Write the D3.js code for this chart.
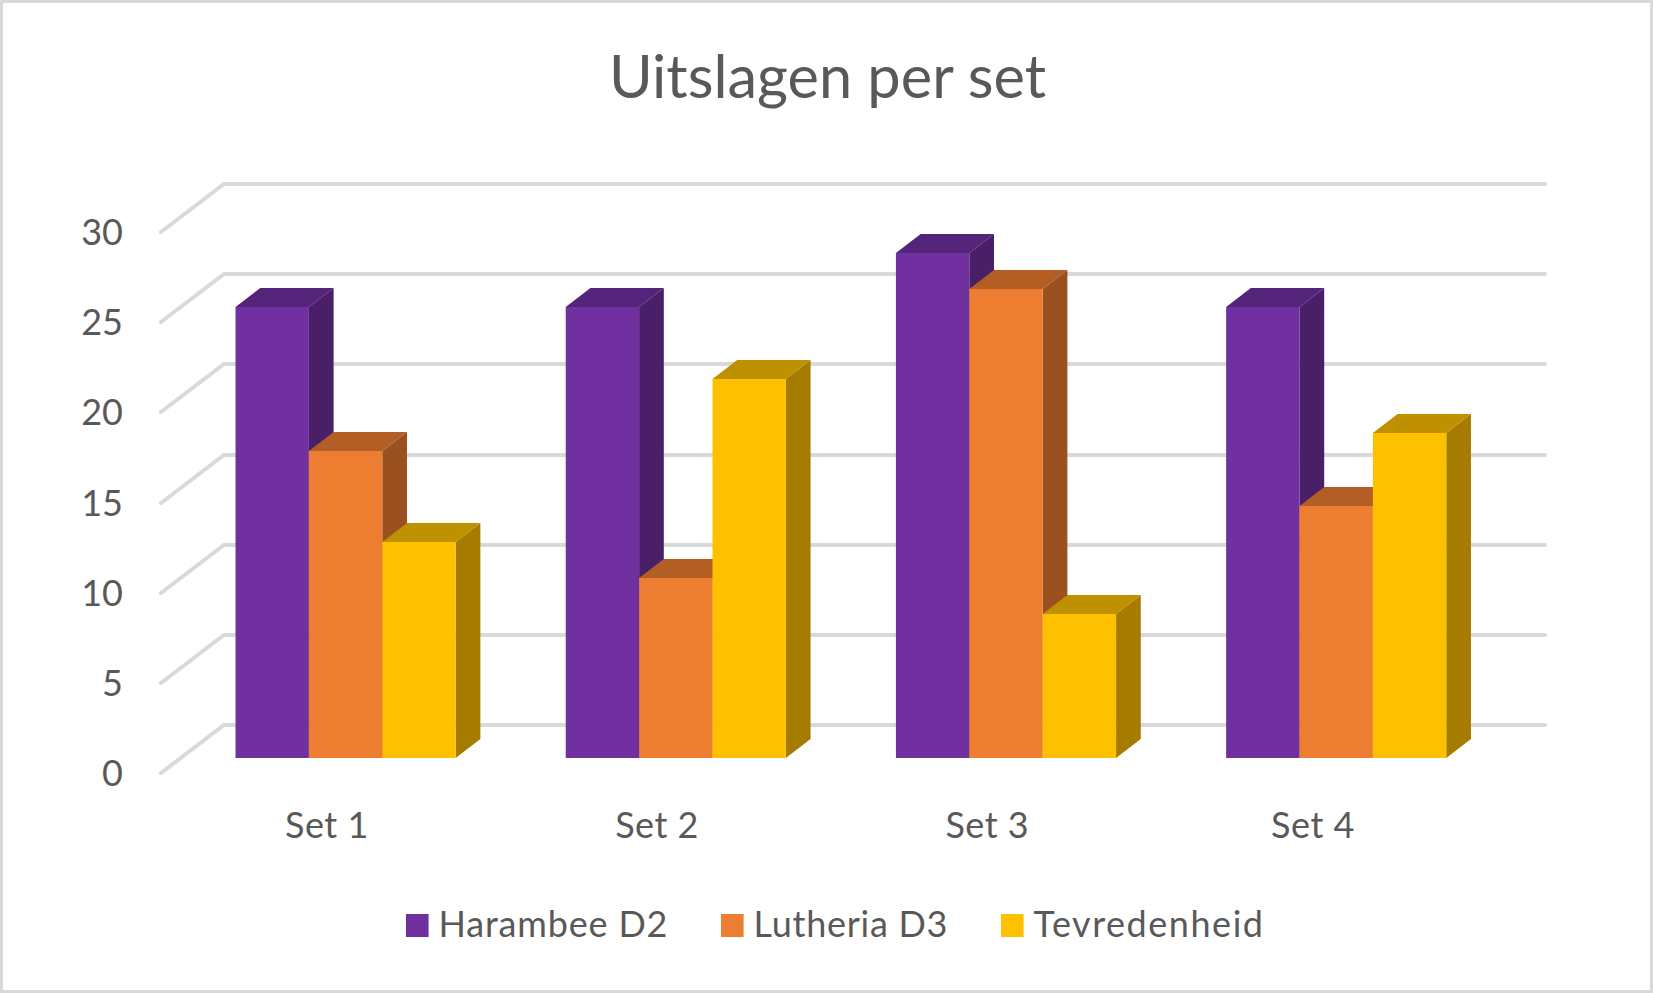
<!DOCTYPE html>
<html><head><meta charset="utf-8">
<style>html,body{margin:0;padding:0;background:#fff}svg{display:block}text{font-family:Lato,"Open Sans",sans-serif;fill:#595959}</style>
<script src="https://cdnjs.cloudflare.com/ajax/libs/d3/7.8.5/d3.min.js"></script>
</head><body><svg id="c" width="1653" height="993"></svg>
<script>
const title = "Uitslagen per set";
const categories = ["Set 1","Set 2","Set 3","Set 4"];
const seriesNames = ["Harambee D2","Lutheria D3","Tevredenheid"];
const harambee = [25,25,28,25];
const lutheria = [17,10,26,14];
const tevredenheid = [12,21,8,18];
const seriesValues = [harambee,lutheria,tevredenheid];
const colors = ["#7030A0","#ED7D31","#FFC000"];
const topColors = ["#54247A","#B25E25","#BF9000"];
const sideColors = ["#491F68","#9A511F","#A67C00"];
const yTicks = [0,5,10,15,20,25,30];

const W=1653,H=993;
const svg=d3.select("#c");
svg.append("rect").attr("x",1.5).attr("y",1.5).attr("width",W-3).attr("height",H-3).attr("fill","#fff").attr("stroke","#D9D9D9").attr("stroke-width",3);

svg.append("text").attr("x",827.5).attr("y",98).attr("text-anchor","middle").attr("font-size",59.5).text(title);

const frontY=758, unit=90.15/5;
const y=d3.scaleLinear().domain([0,30]).rangeRound([frontY,frontY-30*unit]);
const x0=d3.scaleBand().domain(categories).range([180.5,1501.3]).paddingInner(1/3).paddingOuter(1/6);
const x1=d3.scaleBand().domain(seriesNames).range([0,x0.bandwidth()]);
const dx=24.7,dy=19;
// wall geometry relative to the bar plane
const wallFront={x:161,dy:15}, wallBack={x:224,dy:-33}, wallRight=1545;

const grid=svg.append("g").attr("fill","none").attr("stroke","#D9D9D9").attr("stroke-width",4).attr("stroke-linecap","round").attr("stroke-linejoin","miter");
yTicks.forEach(t=>{
  const yy=y(t);
  grid.append("path").attr("d",d3.line()([[wallFront.x,yy+wallFront.dy],[wallBack.x,yy+wallBack.dy],[wallRight,yy+wallBack.dy]]));
});
svg.append("g").selectAll("text").data(yTicks).join("text")
  .attr("x",123).attr("y",d=>y(d)+28).attr("text-anchor","end").attr("font-size",36).text(d=>d);

const bars=svg.append("g");
categories.forEach((c,ci)=>{
  seriesNames.forEach((s,si)=>{
    const v=seriesValues[si][ci];
    const l=x0(c)+x1(s), r=l+x1.bandwidth(), t=y(v), b=y(0);
    const g=bars.append("g");
    g.append("polygon").attr("fill",sideColors[si]).attr("points",[[r,t],[r+dx,t-dy],[r+dx,b-dy],[r,b]].join(" "));
    g.append("polygon").attr("fill",topColors[si]).attr("points",[[l,t],[l+dx,t-dy],[r+dx,t-dy],[r,t]].join(" "));
    g.append("rect").attr("x",l).attr("y",t).attr("width",r-l).attr("height",b-t).attr("fill",colors[si]);
  });
});

const labelNudge=[1,1,1,-3.5];
svg.append("g").selectAll("text").data(categories).join("text")
  .attr("x",(d,i)=>x0(d)+x0.bandwidth()/2-19.7+labelNudge[i]).attr("y",838).attr("text-anchor","middle").attr("font-size",36).attr("letter-spacing",0.5).text(d=>d);

const legendX=[406,721,1001];
const legendTextWidth=[229,194,229.5];
const lg=svg.append("g");
seriesNames.forEach((s,i)=>{
  lg.append("rect").attr("x",legendX[i]).attr("y",914).attr("width",22.6).attr("height",23).attr("fill",colors[i]);
  lg.append("text").attr("x",legendX[i]+32.5).attr("y",937).attr("font-size",36)
    .attr("textLength",legendTextWidth[i]).attr("lengthAdjust","spacing").text(s);
});
</script></body></html>
